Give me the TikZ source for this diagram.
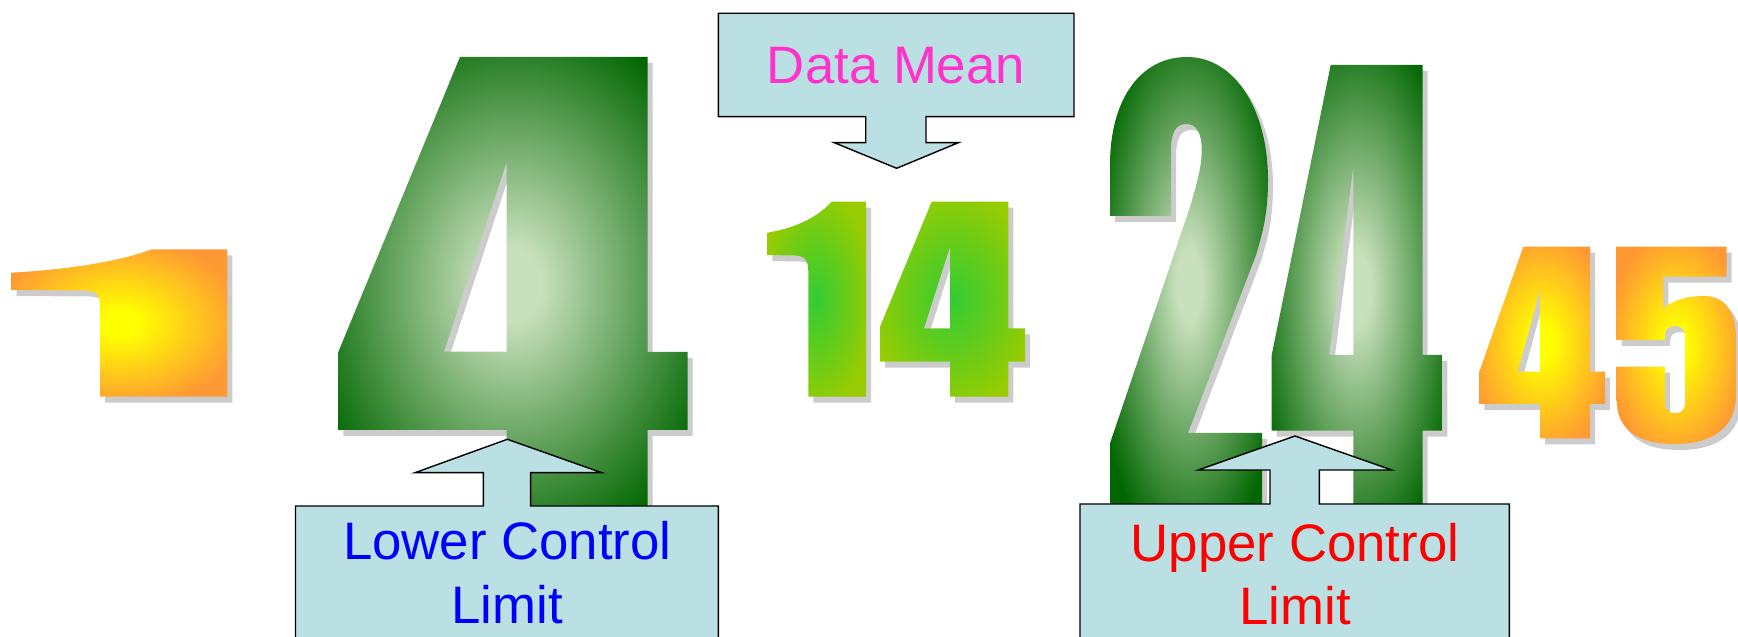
\documentclass[tikz,border=0pt]{standalone}
\usepackage{fontspec}
\setmainfont{Liberation Sans}
\usepackage{tikz}
\usetikzlibrary{shadows}

\definecolor{calloutblue}{RGB}{187,224,227}
\definecolor{shadowgrey}{RGB}{204,204,204}
\definecolor{deepgreen}{RGB}{0,102,0}
\definecolor{palegreen}{RGB}{200,224,188}
\definecolor{limegreen}{RGB}{153,204,0}
\definecolor{brightgreen}{RGB}{51,204,51}
\definecolor{glowyellow}{RGB}{255,255,0}
\definecolor{gloworange}{RGB}{255,153,51}
\definecolor{meanpink}{RGB}{255,51,204}

\pgfdeclareradialshading{orangeglow}{\pgfpointorigin}{color(0bp)=(glowyellow); color(4bp)=(glowyellow); color(29bp)=(gloworange); color(50bp)=(gloworange)}
\pgfdeclareradialshading{greenglow}{\pgfpointorigin}{color(0bp)=(palegreen); color(4bp)=(palegreen); color(31bp)=(deepgreen); color(50bp)=(deepgreen)}
\pgfdeclareradialshading{limeglow}{\pgfpointorigin}{color(0bp)=(brightgreen); color(29bp)=(limegreen); color(50bp)=(limegreen)}

\tikzset{
  glyph/.style={even odd rule, drop shadow={shadow xshift=0.05cm, shadow yshift=-0.06cm, fill=shadowgrey, opacity=1, even odd rule}},
  orangeglyph/.style={glyph, shading=orangeglow},
  greenglyph/.style={glyph, shading=greenglow},
  limeglyph/.style={glyph, shading=limeglow},
  callout/.style={draw=black, fill=calloutblue, line width=0.4pt},
  lbl/.style={font=\fontsize{15}{18}\selectfont, align=center, inner sep=0pt, anchor=base}
}

\begin{document}
\begin{tikzpicture}[x=0.01cm, y=-0.01cm]
  \useasboundingbox (0,0) rectangle (1738,637);
  \clip (0,0) rectangle (1738,637);

  \shade[orangeglyph] (11.7,272.7) .. controls (60,270) and (115,263) .. (151.7,249.3) -- (227.3,249.3) -- (227.3,396.7) -- (100,396.7) -- (100,306.7) .. controls (100,295) and (97,291) .. (85,290.5) -- (11.7,290) -- cycle;

  \shade[greenglyph] (460,56.9) -- (647.5,56.9) -- (647.5,352) -- (687.7,352) -- (687.7,430) -- (647.5,430) -- (647.5,512) -- (506.7,512) -- (506.7,430) -- (338.3,430) -- (338.3,352) -- cycle
    (506.7,161.8) -- (506.7,351.7) -- (444,351.7) -- cycle;

  \shade[limeglyph] (767.3,232.7) .. controls (790,229) and (815,220) .. (831.7,201.7) -- (866,201.7) -- (866,396.7) -- (808.3,396.7) -- (808.3,272) .. controls (808.3,260) and (805,256) .. (795,255.5) -- (767.3,255) -- cycle;
  \shade[limeglyph] (931.7,201.7) -- (1008.3,201.7) -- (1008.3,328.3) -- (1025,328.3) -- (1025,361.7) -- (1008.3,361.7) -- (1008.3,396.7) -- (950,396.7) -- (950,361.7) -- (880,361.7) -- (880,326.7) -- cycle
    (950,246.7) -- (950,328.3) -- (924,328.3) -- cycle;

  \shade[greenglyph] (1110,512) -- (1110,443.3) -- (1190,207) .. controls (1198,180) and (1201.7,165) .. (1201.7,150) .. controls (1201.7,132) and (1196,124) .. (1186.5,124) .. controls (1176,124) and (1171,132) .. (1171,150) -- (1171,216) -- (1110,216) -- (1110,165) .. controls (1110,100) and (1140,57) .. (1187,57) .. controls (1235,57) and (1268,110) .. (1268,180) .. controls (1268,215) and (1262,235) .. (1256,255) -- (1188,433) -- (1262,433) -- (1262,512) -- cycle;
  \shade[greenglyph] (1330.7,65) -- (1422.7,65) -- (1422.7,355) -- (1442.3,355) -- (1442.3,430.7) -- (1422.7,430.7) -- (1422.7,512) -- (1353.3,512) -- (1353.3,430.7) -- (1271.7,430.7) -- (1271.7,355) -- cycle
    (1353.3,166.7) -- (1353.3,355) -- (1329.3,355) -- cycle;

  \shade[orangeglyph] (1523.3,246.7) -- (1590,246.7) -- (1590,371.7) -- (1605,371.7) -- (1605,404) -- (1590,404) -- (1590,438.3) -- (1540,438.3) -- (1540,404) -- (1479.3,404) -- (1479.3,371.7) -- cycle
    (1540,290) -- (1540,371.7) -- (1517.7,371.7) -- cycle;
  \shade[orangeglyph] (1616.7,246.7) -- (1726.7,246.7) -- (1726.7,276.7) -- (1663.3,276.7) -- (1663.3,308.3) .. controls (1675,299) and (1690,296) .. (1703,296) .. controls (1726,296) and (1736,312) .. (1736,340) -- (1736,395) .. controls (1736,428) and (1712,444) .. (1675,444) .. controls (1638,444) and (1616.7,430) .. (1616.7,400) -- (1616.7,366.7) -- (1665,366.7) -- (1665,403.3) .. controls (1665,410) and (1669,413.3) .. (1675,413.3) .. controls (1681,413.3) and (1685,410) .. (1685,403.3) -- (1685,336) .. controls (1685,329) and (1681,326) .. (1675,326) .. controls (1669,326) and (1665,329) .. (1665,336) -- (1665,340) -- (1616.7,340) -- cycle;

  \draw[callout] (718.3,13.3) -- (1074,13.3) -- (1074,116.7) -- (926,116.7) -- (926,142.7) -- (958.3,142.7) -- (896.7,168.3) -- (834.3,142.7) -- (865.7,142.7) -- (865.7,116.7) -- (718.3,116.7) -- cycle;
  \draw[callout] (295.5,660) -- (295.5,506) -- (483.3,506) -- (483.3,472.7) -- (415,472.7) -- (507.3,439.3) -- (601.7,472.7) -- (530.7,472.7) -- (530.7,506) -- (718.3,506) -- (718.3,660) -- cycle;
  \draw[callout] (1080,660) -- (1080,504) -- (1270,504) -- (1270,470) -- (1198.3,470) -- (1295,436) -- (1391.7,470) -- (1319.3,470) -- (1319.3,504) -- (1509.3,504) -- (1509.3,660) -- cycle;

  \node[lbl, text=meanpink] (mean) at (896,83.3) {Data Mean};
  \node[lbl, text=blue] (lcl) at (507.3,623.3) {Lower Control\\Limit};
  \node[lbl, text=red] (ucl) at (1295,625) {Upper Control\\Limit};
\end{tikzpicture}
\end{document}
